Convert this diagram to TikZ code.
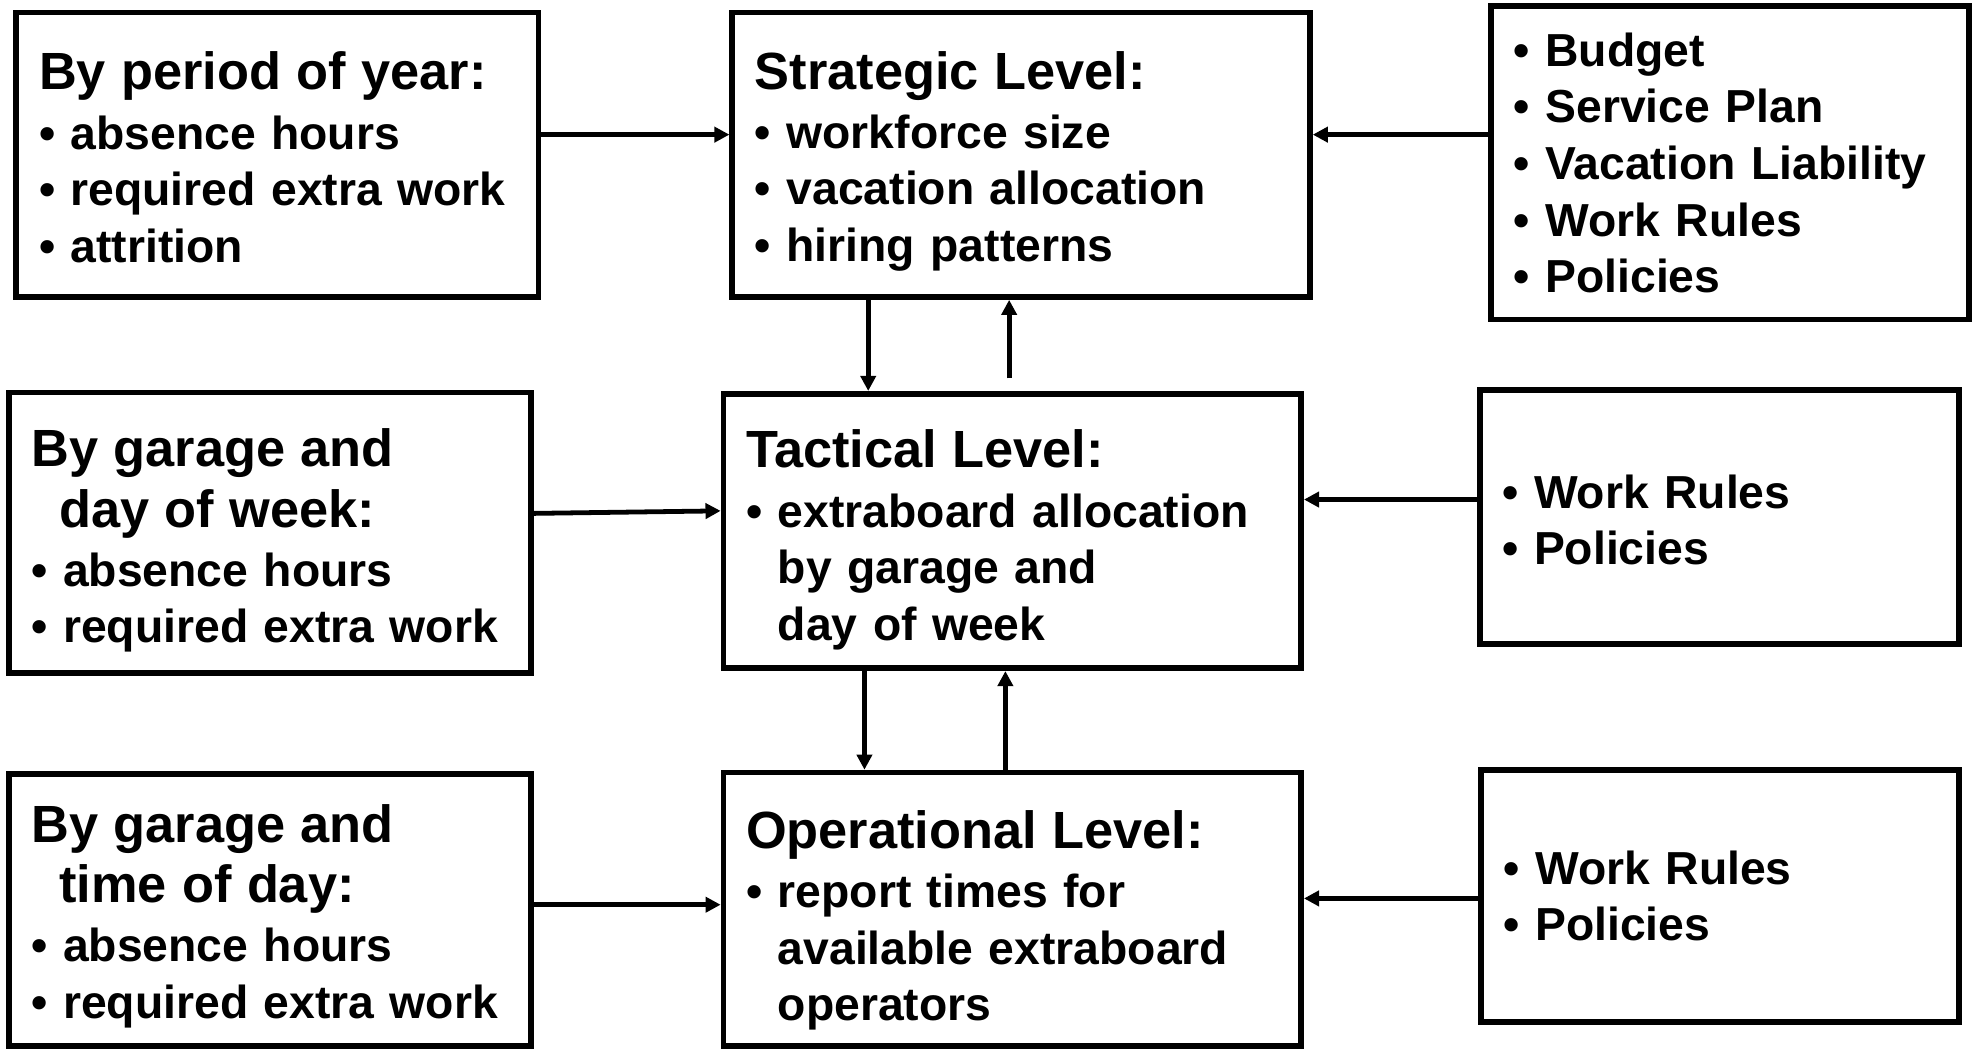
\documentclass[tikz,border=0pt]{standalone}
\usepackage{fontspec}
\setmainfont{Liberation Sans}
\usetikzlibrary{arrows.meta}
\newcommand{\hd}[1]{{\fontsize{20.8}{24}\selectfont #1}}
\newcommand{\itm}{\textbullet\ }
\newcommand{\pad}[1]{\rule{0pt}{#1}}

\begin{document}
\begin{tikzpicture}[x=0.5pt, y=-0.5pt,
    box/.style={draw, line width=2.3pt, inner xsep=9pt, inner ysep=0pt, align=left,
      font=\bfseries\fontsize{18.4}{22.5}\selectfont},
    arr/.style={-{Triangle[length=6pt, width=6pt]}, line width=1.9pt}]
  \useasboundingbox (0,0) rectangle (1568,834);
  % left column: inputs
  \node[box, minimum width=207.5pt, text width=189.5pt, minimum height=113pt] (l1) at (220.5,123)
    {\hd{\pad{17.2pt}By period of year:}\\[1pt] \itm absence hours\\ \itm required extra work\\ \itm attrition};
  \node[box, minimum width=207.5pt, text width=189.5pt, minimum height=111.5pt] (l2) at (214.5,423.5)
    {\hd{\pad{21.2pt}By garage and}\\[1.5pt] \hd{\hspace*{11pt}day of week:}\\[1pt] \itm absence hours\\ \itm required extra work};
  \node[box, minimum width=207.5pt, text width=189.5pt, minimum height=108pt] (l3) at (214.5,723)
    {\hd{\pad{20.2pt}By garage and}\\[1.5pt] \hd{\hspace*{11pt}time of day:}\\[1pt] \itm absence hours\\ \itm required extra work};
  % middle column: levels
  \node[box, minimum width=229.5pt, text width=211.5pt, minimum height=113pt] (c1) at (811.5,123)
    {\hd{\pad{20.2pt}Strategic Level:}\\[1pt] \itm workforce size\\ \itm vacation allocation\\ \itm hiring patterns};
  \node[box, minimum width=229.5pt, text width=211.5pt, minimum height=109pt] (c2) at (804.5,422)
    {\hd{\pad{22.2pt}Tactical Level:}\\[1pt] \itm extraboard allocation\\ \hphantom{\itm}by garage and\\ \hphantom{\itm}day of week};
  \node[box, minimum width=229.5pt, text width=211.5pt, minimum height=108.5pt] (c3) at (804.5,722.5)
    {\hd{\pad{24.2pt}Operational Level:}\\[1pt] \itm report times for\\ \hphantom{\itm}available extraboard\\ \hphantom{\itm}operators};
  % right column: constraints
  \node[box, minimum width=190pt, text width=172pt, minimum height=124.5pt] (r1) at (1375,129.5)
    {\itm Budget\\ \itm Service Plan\\ \itm Vacation Liability\\ \itm Work Rules\\ \itm Policies};
  \node[box, minimum width=190.5pt, text width=172.5pt, minimum height=101pt] (r2) at (1366.5,411)
    {\pad{15.4pt}\itm Work Rules\\ \itm Policies};
  \node[box, minimum width=190pt, text width=172pt, minimum height=100pt] (r3) at (1367,712)
    {\itm Work Rules\\ \itm Policies};
  % connectors
  \draw[arr] (l1.east |- 0,107) -- (c1.west |- 0,107);
  \draw[arr] (r1.west |- 0,107) -- (c1.east |- 0,107);
  \draw[arr] (l2.east |- 0,408) -- (c2.west |- 0,406);
  \draw[arr] (r2.west |- 0,397) -- (c2.east |- 0,397);
  \draw[arr] (l3.east |- 0,719) -- (c3.west |- 0,719);
  \draw[arr] (r3.west |- 0,714) -- (c3.east |- 0,714);
  \draw[arr] (c1.south -| 690,0) -- (c2.north -| 690,0);
  \draw[arr, shorten <=5pt] (c2.north -| 802,0) -- (c1.south -| 802,0);
  \draw[arr] (c2.south -| 687,0) -- (c3.north -| 687,0);
  \draw[arr] (c3.north -| 799,0) -- (c2.south -| 799,0);
\end{tikzpicture}
\end{document}
